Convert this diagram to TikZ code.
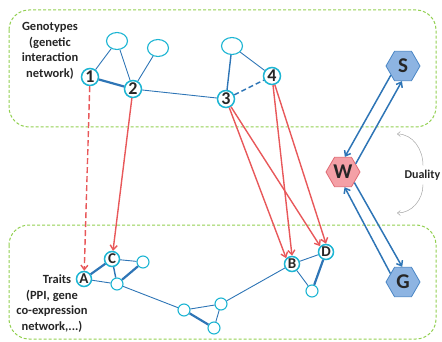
\documentclass[tikz,border=0pt]{standalone}
\usepackage{fontspec}
\setmainfont{Carlito}
\usetikzlibrary{shapes.geometric,arrows.meta,positioning}

\definecolor{netcyan}{HTML}{1CB5D3}
\definecolor{netblue}{HTML}{2E75B6}
\definecolor{causered}{HTML}{E8585A}
\definecolor{boxgreen}{HTML}{92D050}
\definecolor{hexblue}{HTML}{8DB4E2}
\definecolor{hexblueline}{HTML}{4A86C5}
\definecolor{hexred}{HTML}{F4A0A6}
\definecolor{hexredline}{HTML}{E06A74}
\definecolor{inktext}{HTML}{262626}

\tikzset{
  genenode/.style={circle, draw=netcyan, line width=1.5pt, fill=white,
    minimum size=17pt, inner sep=0pt, text=inktext,
    font=\fontsize{18}{18}\selectfont\bfseries},
  geneblank/.style={ellipse, draw=netcyan, line width=1.1pt, fill=white,
    minimum width=21pt, minimum height=17pt, inner sep=0pt},
  traitnode/.style={circle, draw=netcyan, line width=1.5pt, fill=white,
    minimum size=15pt, inner sep=0pt, text=inktext,
    font=\fontsize{15}{15}\selectfont\bfseries},
  traitblank/.style={circle, draw=netcyan, line width=1.1pt, fill=white,
    minimum size=12pt, inner sep=0pt},
  hexnode/.style={regular polygon, regular polygon sides=6, minimum size=34pt,
    inner sep=0pt, line width=0.8pt, text=inktext,
    font=\fontsize{21}{21}\selectfont\bfseries},
  link/.style={draw=netblue, line width=0.9pt},
  mid link/.style={draw=netblue, line width=1.4pt},
  strong link/.style={draw=netblue, line width=2.2pt},
  cause/.style={draw=causered, line width=1.4pt,
    -{Straight Barb[length=4.5pt,width=7pt]}},
  dual/.style={draw=netblue, line width=1.5pt,
    -{Straight Barb[length=4.5pt,width=7pt]}},
  layer/.style={draw=boxgreen, line width=1pt, dash pattern=on 3pt off 2pt,
    rounded corners=20pt},
  labeltext/.style={align=center, text=inktext,
    font=\fontsize{12.5}{15.5}\selectfont\bfseries}
}

\begin{document}
\begin{tikzpicture}[x=1pt, y=-1pt]
    \useasboundingbox (0,0) rectangle (442,342);

    % layers
    \draw[layer] (9,10) rectangle (436,127);
    \draw[layer] (9,225) rectangle (436,339);

    % genotypes
    \node[labeltext] (genolabel) at (50,51) {Genotypes\\(genetic\\interaction\\network)};
    \node[genenode] (g1) at (90,77) {1};
    \node[genenode] (g2) at (133,89) {2};
    \node[genenode] (g3) at (226,99) {3};
    \node[genenode] (g4) at (272,76) {4};
    \node[geneblank] (ga) at (117,41) {};
    \node[geneblank] (gb) at (158,48) {};
    \node[geneblank] (gc) at (232,46) {};

    \draw[link] (g1) -- (ga);
    \draw[link] (ga) -- (g2);
    \draw[link] (g2) -- (gb);
    \draw[strong link] (g1) -- (g2);
    \draw[link] (g2) -- (g3);
    \draw[mid link] (g3) -- (gc);
    \draw[link] (gc) -- (g4);
    \draw[mid link, dash pattern=on 5pt off 3pt] (g3) -- (g4);

    % traits
    \node[traitnode] (tA) at (84,279) {A};
    \node[traitnode] (tC) at (112,259) {C};
    \node[traitnode] (tB) at (292,264) {B};
    \node[traitnode] (tD) at (326,252) {D};
    \node[traitblank] (t1) at (143,262) {};
    \node[traitblank] (t2) at (117,284) {};
    \node[traitblank] (t3) at (184,310) {};
    \node[traitblank] (t4) at (221,304) {};
    \node[traitblank] (t5) at (214,328) {};
    \node[traitblank] (t6) at (312,291) {};
    \node[labeltext, left=1pt of tA] (traitlabel) {Traits};
    \node[labeltext] (traitinfo) at (52,311) {(PPI, gene\\co-expression\\network,...)};

    \draw[strong link] (tA) -- (tC);
    \draw[link] (tC) -- (t1);
    \draw[mid link] (tC) -- (t2);
    \draw[strong link] (t2) -- (t1);
    \draw[link] (tA) -- (t2);
    \draw[link] (t2) -- (t3);
    \draw[link] (t3) -- (t4);
    \draw[strong link] (t3) -- (t5);
    \draw[link] (t4) -- (t5);
    \draw[link] (t4) -- (tB);
    \draw[link] (tB) -- (tD);
    \draw[link] (tB) -- (t6);
    \draw[strong link] (tD) -- (t6);

    % genotype -> trait
    \draw[cause, dash pattern=on 6pt off 3pt] (g1) -- (tA);
    \draw[cause] (g2) -- (tC);
    \draw[cause] (g3) -- (tB.north west);
    \draw[cause] (g3) -- (tD.north west);
    \draw[cause] (g4) -- (tB.north);
    \draw[cause] (g4) -- (tD.north);

    % duality
    \node[hexnode, fill=hexblue, draw=hexblueline] (S) at (403,66) {S};
    \node[hexnode, fill=hexred, draw=hexredline] (W) at (343,172) {W};
    \node[hexnode, fill=hexblue, draw=hexblueline] (G) at (403,282) {G};

    \draw[dual] (S.217) -- (W.83);
    \draw[dual] (W.33) -- (S.266);
    \draw[dual] (W.317) -- (G.93);
    \draw[dual] (G.146) -- (W.276);

    \node[labeltext, anchor=west, font=\fontsize{12}{14}\selectfont\bfseries]
        (duality) at (401,175) {Duality};
    \coordinate (dup) at (397,134);
    \coordinate (ddown) at (397,213);
    \draw[gray!70, line width=0.5pt, -{Straight Barb[length=3pt,width=5pt]}]
        (duality.north west) ++(22,-1) to[out=90, in=0] (dup);
    \draw[gray!70, line width=0.5pt, -{Straight Barb[length=3pt,width=5pt]}]
        (duality.south west) ++(22,1) to[out=-90, in=0] (ddown);
\end{tikzpicture}
\end{document}
